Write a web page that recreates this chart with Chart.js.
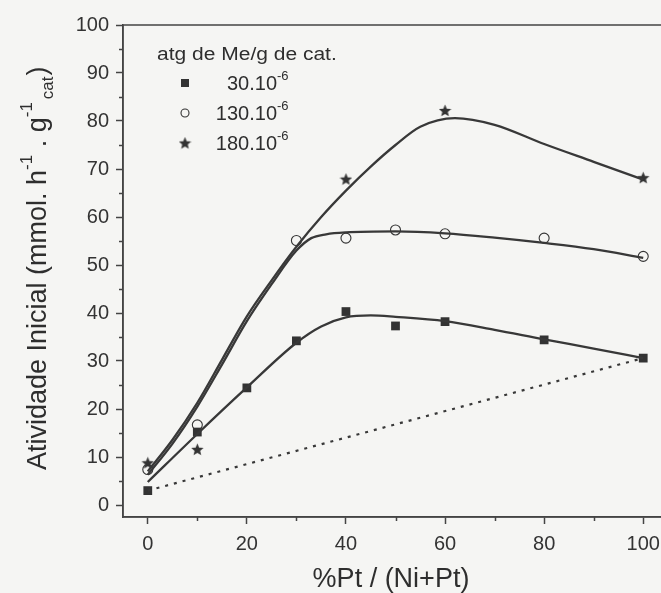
<!DOCTYPE html>
<html>
<head>
<meta charset="utf-8">
<script src="https://cdn.jsdelivr.net/npm/chart.js@4.4.1/dist/chart.umd.min.js"></script>
<style>
  html, body { margin: 0; padding: 0; background: #f5f5f3; overflow: hidden; }
</style>
</head>
<body>
<canvas id="graf" width="680" height="593"></canvas>
<script>
let ctx = document.getElementById('graf').getContext('2d')

// Ticks dos eixos
const xTicks = [0, 20, 40, 60, 80, 100]
const xMinor = [10, 30, 50, 70, 90]
const yTicks = [0, 10, 20, 30, 40, 50, 60, 70, 80, 90, 100]
const yMinor = [5, 15, 25, 35, 45, 55, 65, 75, 85, 95]

// Pontos experimentais - atg de Me/g de cat.
const xPt30 = [0, 10, 20, 30, 40, 50, 60, 80, 100]
const ativ30 = [3, 15.2, 24.4, 34.2, 40.3, 37.3, 38.2, 34.4, 30.6]
const xPt130 = [0, 10, 30, 40, 50, 60, 80, 100]
const ativ130 = [7.4, 16.7, 55.1, 55.6, 57.3, 56.5, 55.6, 51.8]
const xPt180 = [0, 10, 40, 60, 100]
const ativ180 = [8.8, 11.6, 67.9, 82.2, 68.2]

// Curvas ajustadas
const xCurva30 = [0, 10, 20, 30, 35, 40, 45, 50, 60, 70, 80, 90, 100]
const curva30 = [4.8, 14.8, 24.5, 33.8, 37.2, 39.1, 39.5, 39.2, 38.3, 36.5, 34.5, 32.6, 30.6]
const xCurva130 = [0, 5, 10, 15, 20, 25, 30, 33, 36, 40, 50, 60, 70, 80, 90, 100]
const curva130 = [6.3, 12.8, 20.5, 29.3, 38.3, 46, 53, 55.6, 56.4, 56.8, 57, 56.6, 55.7, 54.6, 53.3, 51.5]
const xCurva180 = [0, 5, 10, 15, 20, 25, 30, 35, 40, 45, 50, 55, 62, 70, 80, 90, 100]
const curva180 = [7, 13.6, 21.3, 30.3, 39.3, 46.8, 53.8, 60, 65.5, 70.5, 75, 78.8, 80.6, 79.2, 75.2, 71.5, 67.8]

// Reta pontilhada
const xReta = [0, 100]
const reta = [3, 30.6]

const pares = (xs, ys) => xs.map((x, i) => ({ x: x, y: ys[i] }))

const corLinha = '#383838'
const corPonto = '#333'
const fonte = 'Liberation Sans, Arial, sans-serif'

// estrela de 5 pontas para o marcador
function estrela(tam, cor) {
    const c = document.createElement('canvas')
    c.width = tam; c.height = tam
    const g = c.getContext('2d')
    const R = tam / 2, r = R * 0.45
    g.beginPath()
    for (let i = 0; i < 10; i++) {
        const rad = i % 2 ? r : R
        const a = -Math.PI / 2 + i * Math.PI / 5
        g.lineTo(tam / 2 + rad * Math.cos(a), tam / 2 + 0.6 + rad * Math.sin(a))
    }
    g.closePath()
    g.fillStyle = cor
    g.fill()
    return c
}
const star = estrela(13, corPonto)

// texto com sobrescrito/subscrito
function partes(c, x, y, lista) {
    for (const p of lista) {
        c.font = p.size + 'px ' + fonte
        c.fillText(p.t, x, y + (p.dy || 0))
        x += c.measureText(p.t).width + (p.gap || 0)
    }
    return x
}

// ticks menores + moldura
const minorTicks = {
    id: 'minorTicks',
    afterDraw(chart) {
        const c = chart.ctx, a = chart.chartArea
        const sx = chart.scales.x, sy = chart.scales.y
        c.save()
        c.strokeStyle = '#444'
        c.lineWidth = 1.5
        c.beginPath()
        xMinor.forEach(v => {
            const px = Math.round(sx.getPixelForValue(v)) + 0.5
            c.moveTo(px, a.bottom); c.lineTo(px, a.bottom + 4)
        })
        yMinor.forEach(v => {
            const py = Math.round(sy.getPixelForValue(v)) + 0.5
            c.moveTo(a.left, py); c.lineTo(a.left - 4, py)
        })
        c.stroke()
        c.strokeRect(a.left, a.top, a.right - a.left, a.bottom - a.top)
        c.restore()
    }
}

// legenda dentro do gráfico + títulos dos eixos
const textos = {
    id: 'textos',
    afterDraw(chart) {
        const c = chart.ctx
        c.save()
        c.fillStyle = '#2e2e2e'
        c.textBaseline = 'alphabetic'

        // título da legenda
        c.save()
        c.translate(157, 60)
        c.scale(1.2, 1)
        c.font = '17.5px ' + fonte
        c.fillText('atg de Me/g de cat.', 0, 0)
        c.restore()

        const itens = [
            { nome: '30.10', y: 90, tipo: 'rect' },
            { nome: '130.10', y: 120, tipo: 'circle' },
            { nome: '180.10', y: 150, tipo: 'star' }
        ]
        itens.forEach(it => {
            c.font = '20px ' + fonte
            const w = c.measureText(it.nome).width
            const x0 = 277 - w
            partes(c, x0, it.y, [{ t: it.nome, size: 20 }, { t: '-6', size: 13, dy: -10 }])
            const my = it.y - 7
            if (it.tipo === 'rect') {
                c.fillStyle = corPonto
                c.fillRect(181, my - 4, 8, 8)
                c.fillStyle = '#2e2e2e'
            } else if (it.tipo === 'circle') {
                c.strokeStyle = corPonto
                c.lineWidth = 1.1
                c.beginPath(); c.arc(185, my, 4, 0, Math.PI * 2); c.stroke()
            } else {
                c.drawImage(star, 185 - 6.5, my - 6.5)
            }
        })

        // título eixo X
        c.font = '27px ' + fonte
        c.textAlign = 'center'
        c.fillText('%Pt / (Ni+Pt)', 391, 587)
        c.textAlign = 'left'

        // título eixo Y (girado)
        c.translate(46, 470)
        c.rotate(-Math.PI / 2)
        partes(c, 0, 0, [
            { t: 'Atividade Inicial (mmol. h', size: 27 },
            { t: '-1', size: 17, dy: -14 },
            { t: ' . g', size: 27 },
            { t: '-1', size: 17, dy: -14, gap: 3 },
            { t: 'cat', size: 17, dy: 7, gap: 1 },
            { t: ')', size: 27 }
        ])
        c.restore()
    }
}

const eixoTicks = { color: '#333', font: { size: 20, family: fonte } }

const data = {
    datasets: [
        { label: 'reta', data: pares(xReta, reta), showLine: true, borderColor: corLinha, borderWidth: 2.2, borderDash: [3, 6], pointRadius: 0 },
        { label: 'curva 30', data: pares(xCurva30, curva30), showLine: true, borderColor: corLinha, borderWidth: 2.3, pointRadius: 0, cubicInterpolationMode: 'monotone' },
        { label: 'curva 130', data: pares(xCurva130, curva130), showLine: true, borderColor: corLinha, borderWidth: 2.3, pointRadius: 0, cubicInterpolationMode: 'monotone' },
        { label: 'curva 180', data: pares(xCurva180, curva180), showLine: true, borderColor: corLinha, borderWidth: 2.3, pointRadius: 0, cubicInterpolationMode: 'monotone' },
        { label: '30.10-6', data: pares(xPt30, ativ30), pointStyle: 'rect', pointRadius: 6.2, backgroundColor: corPonto, borderColor: corPonto, borderWidth: 0 },
        { label: '130.10-6', data: pares(xPt130, ativ130), pointStyle: 'circle', pointRadius: 5, backgroundColor: 'rgba(0,0,0,0)', borderColor: corPonto, borderWidth: 1.1 },
        { label: '180.10-6', data: pares(xPt180, ativ180), pointStyle: star, pointRadius: 6 }
    ]
}

const config = {
    type: 'scatter',
    data: data,
    options: {
        responsive: false,
        animation: false,
        events: [],
        layout: { padding: { left: 0, top: 25, right: 12, bottom: 0 } },
        plugins: {
            legend: { display: false },
            tooltip: { enabled: false }
        },
        scales: {
            x: {
                type: 'linear',
                min: -5,
                max: 105,
                afterFit: s => { s.height = 76 },
                afterBuildTicks: s => { s.ticks = xTicks.map(v => ({ value: v })) },
                grid: { drawOnChartArea: false, tickLength: 7, tickColor: '#444', tickWidth: 1.5 },
                border: { color: '#444', width: 1.5 },
                ticks: Object.assign({ padding: 8, maxRotation: 0 }, eixoTicks)
            },
            y: {
                type: 'linear',
                min: -2.5,
                max: 100,
                afterFit: s => { s.width = 123 },
                afterBuildTicks: s => { s.ticks = yTicks.map(v => ({ value: v })) },
                grid: { drawOnChartArea: false, tickLength: 7, tickColor: '#444', tickWidth: 1.5 },
                border: { color: '#444', width: 1.5 },
                ticks: Object.assign({ padding: 7 }, eixoTicks)
            }
        }
    },
    plugins: [minorTicks, textos]
}

const grafico = new Chart(ctx, config)
</script>
</body>
</html>
